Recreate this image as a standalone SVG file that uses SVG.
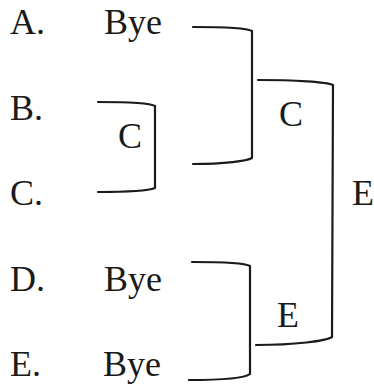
<svg xmlns="http://www.w3.org/2000/svg" width="374" height="387" viewBox="0 0 374 387">
<style>
text{font-family:"Liberation Serif","Times New Roman",serif;font-size:36px;fill:#1a1a1a}
.br{fill:none;stroke:#1a1a1a;stroke-width:2.2;stroke-linecap:round;stroke-linejoin:round}
</style>
<rect width="374" height="387" fill="#ffffff"/>
<g id="teams">
<g id="A"><text x="10" y="34">A.</text><text x="104" y="34">Bye</text></g>
<g id="B"><text x="10" y="120">B.</text></g>
<g id="C"><text x="10" y="205">C.</text></g>
<g id="D"><text x="10" y="291">D.</text><text x="104" y="291">Bye</text></g>
<g id="E"><text x="10" y="376">E.</text><text x="103" y="376">Bye</text></g>
</g>
<g id="winners">
<g id="w-bc"><text x="118" y="148">C</text></g>
<g id="w-ac"><text x="279" y="126">C</text></g>
<g id="w-de"><text x="277" y="327">E</text></g>
<g id="w-final"><text x="352" y="205">E</text></g>
</g>
<g id="connectors">
<path class="br" d="M98,102 C130,102 150,103 155,106 L155,188 C150,190 130,192 98,192"/>
<path class="br" d="M193,27 C225,27 247,28 252,31 L252,158 C247,161 225,164 193,164"/>
<path class="br" d="M192,262 C220,262 245,263 250,266 L250,374 C245,378 220,380 189,380"/>
<path class="br" d="M258,80 C295,80 327,82 333,85 L332,337 C326,341 295,345 256,345"/>
</g>
</svg>
